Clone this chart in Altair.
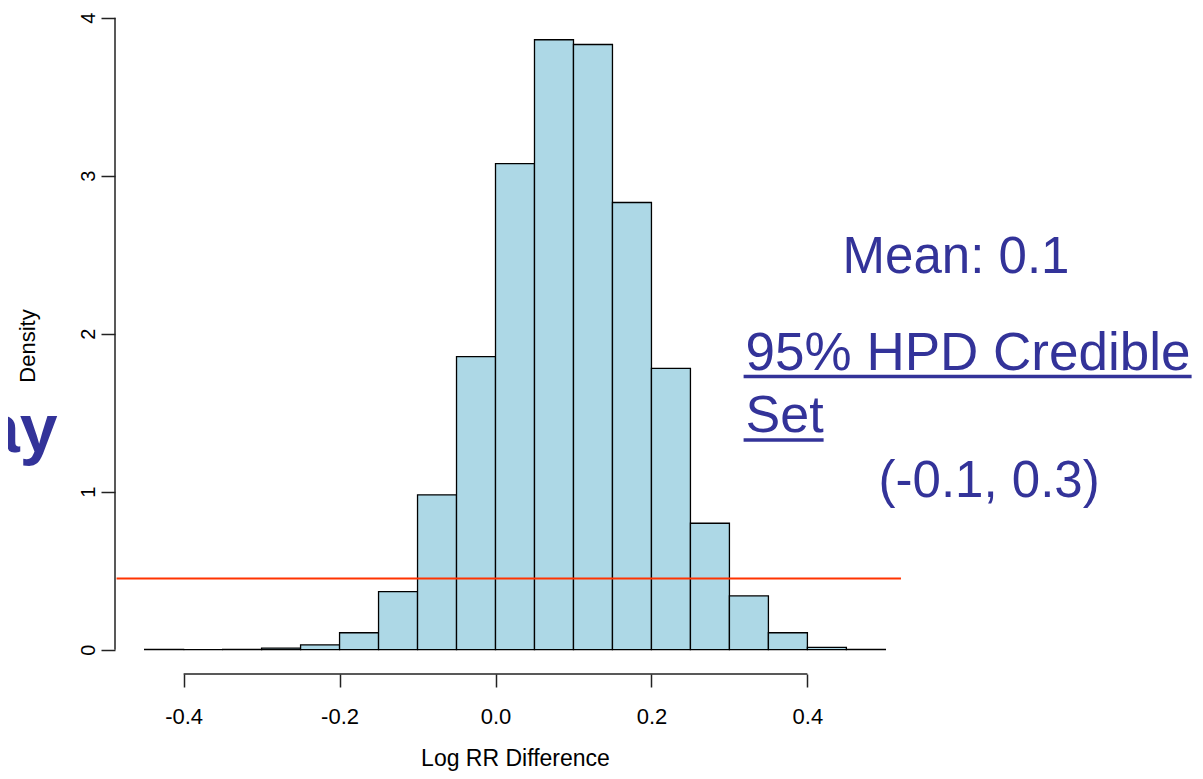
import altair as alt
import pandas as pd

# ---- data ----
bin_starts = [-0.45, -0.40, -0.35, -0.30, -0.25, -0.20, -0.15, -0.10, -0.05, 0.00,
              0.05, 0.10, 0.15, 0.20, 0.25, 0.30, 0.35, 0.40, 0.45]
bin_width = 0.05
densities = [0.001, 0.0, 0.002, 0.010, 0.030, 0.107, 0.367, 0.980, 1.854, 3.076,
             3.860, 3.830, 2.830, 1.780, 0.800, 0.340, 0.107, 0.015, 0.002]
x_ticks = [-0.4, -0.2, 0.0, 0.2, 0.4]
y_ticks = [0, 1, 2, 3, 4]
ref_line_y = 0.45
ref_line_x = [-0.486, 0.52]
x_domain = [-0.488, 0.538]
y_domain = [-0.154, 4.004]

W, H = 800, 657
BLUE = "#333399"
FONT = "Liberation Sans, Arial, sans-serif"

hist = pd.DataFrame({
    "x0": bin_starts,
    "x1": [b + bin_width for b in bin_starts],
    "y0": [0.0] * len(bin_starts),
    "y1": densities,
})

xs = alt.Scale(domain=x_domain, nice=False, zero=False)
ys = alt.Scale(domain=y_domain, nice=False, zero=False)

x_axis = alt.Axis(
    values=x_ticks, domain=False, grid=False, tickSize=13, tickWidth=1.5,
    tickColor="#222", labelFont=FONT, labelFontSize=22, labelColor="black",
    labelBaseline="alphabetic", labelPadding=36.5,
    labelExpr="datum.value < 0 ? '-' + format(-datum.value, '.1f') : format(datum.value, '.1f')",
    title="Log RR Difference", titleFont=FONT, titleFontSize=23, titleFontWeight="normal",
    titleColor="black", titleY=91.5, titleBaseline="alphabetic",
)
y_axis = alt.Axis(
    values=y_ticks, domain=False, grid=False, tickSize=14, tickWidth=1.5,
    tickColor="#222", labelFont=FONT, labelFontSize=20,
    labelColor="black", labelAngle=270, labelAlign="center", labelBaseline="middle",
    labelPadding=13, format="d",
    title="Density", titleFont=FONT, titleFontSize=22,
    titleFontWeight="normal", titleColor="black", titleX=-88, titleBaseline="middle",
)

bars = alt.Chart(hist).mark_rect(fill="#ADD8E6", stroke="black", strokeWidth=1.3).encode(
    x=alt.X("x0:Q", scale=xs, axis=x_axis),
    x2="x1:Q",
    y=alt.Y("y0:Q", scale=ys, axis=y_axis),
    y2="y1:Q",
)

xline_df = pd.DataFrame({"x0": [min(x_ticks)], "x1": [max(x_ticks)]})
x_domain_line = alt.Chart(xline_df).mark_rule(color="#222", strokeWidth=1.5).encode(
    x=alt.X("x0:Q", scale=xs, axis=x_axis), x2="x1:Q", y=alt.value(H)
)
yline_df = pd.DataFrame({"y0": [min(y_ticks)], "y1": [max(y_ticks)]})
y_domain_line = alt.Chart(yline_df).mark_rule(color="#222", strokeWidth=1.5).encode(
    y=alt.Y("y0:Q", scale=ys, axis=y_axis), y2="y1:Q", x=alt.value(0)
)

red_df = pd.DataFrame({"x0": [ref_line_x[0]], "x1": [ref_line_x[1]], "y0": [ref_line_y]})
red_line = alt.Chart(red_df).mark_rule(color="#ff3300", strokeWidth=2).encode(
    x=alt.X("x0:Q", scale=xs, axis=x_axis), x2="x1:Q",
    y=alt.Y("y0:Q", scale=ys, axis=y_axis),
)

one = alt.Data(values=[{}])


def label(text, x, y, size, weight="normal", align="left"):
    return alt.Chart(one).mark_text(
        font=FONT, fontSize=size, fontWeight=weight,
        color=BLUE, align=align, baseline="alphabetic",
    ).encode(x=alt.value(x), y=alt.value(y), text=alt.value(text))


def underline(x1, x2, y):
    return alt.Chart(one).mark_rule(color=BLUE, strokeWidth=3.5).encode(
        x=alt.value(x1), x2=alt.value(x2), y=alt.value(y)
    )


annots = [
    label("Mean: 0.1", 727.6, 255.6, 51),
    label("95% HPD Credible", 630.6, 352.6, 53),
    underline(628.6, 1076.6, 359.5),
    label("Set", 630.6, 414.6, 52),
    underline(628.6, 708.6, 423),
    label("(-0.1, 0.3)", 763.6, 479.6, 51),
    label("ay", -57.4, 434.6, 68, weight="bold", align="right"),
]

chart = alt.layer(bars, x_domain_line, y_domain_line, red_line, *annots).properties(
    width=W, height=H,
    autosize=alt.AutoSizeParams(type="none"),
    padding={"left": 107, "top": 9, "right": 280, "bottom": 97},
    background="white",
).configure_view(stroke=None)

chart.save("out.html", embed_options={"renderer": "svg", "actions": False})
